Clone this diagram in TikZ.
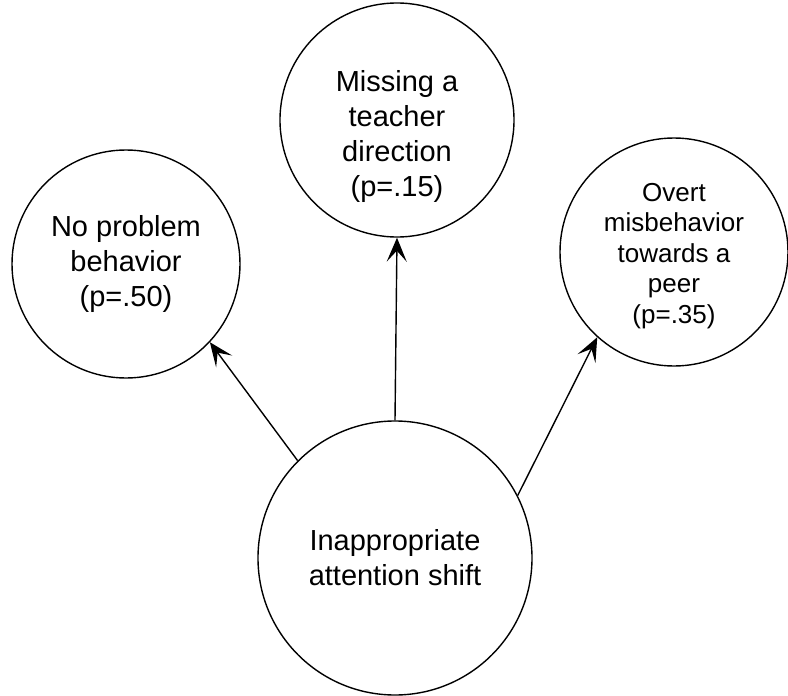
\documentclass[tikz,border=0pt]{standalone}
\usepackage{fontspec}
\setmainfont{Liberation Sans}
\usetikzlibrary{arrows.meta}
\tikzset{
txt/.style={
  align=center,
  font=\fontsize{29}{35}\selectfont
  },
circ/.style={
  txt,
  draw,
  circle,
  line width=1.4pt,
  inner sep=0pt,
  minimum size=#1
  },
circs/.style={
  circ=#1,
  font=\fontsize{26}{30.5}\selectfont
  },
link/.style={
  line width=1.4pt,
  -{Stealth[length=24pt 0 0,width=20pt 0,inset=11pt 0]}
  }
}

\begin{document}
\begin{tikzpicture}[x=1pt,y=-1pt]
\useasboundingbox (0,0) rectangle (788,696);

\node[circ=274pt] at (395,558) (shift) {Inappropriate\\attention shift};

\node[circ=228pt] at (126,264) (noprob) {No problem\\behavior\\(p=.50)};

\node[circ=234pt,label={[txt,yshift=-17pt]center:Missing a\\teacher\\direction\\(p=.15)}]
  at (397,120) (missing) {};

\node[circs=228pt,label={[txt,font=\fontsize{26}{30.5}\selectfont,yshift=-4pt]center:Overt\\misbehavior\\towards a\\peer\\(p=.35)}]
  at (674,252) (overt) {};

\draw[link] (shift.135) -- (noprob.-43);
\draw[link] (shift.north) -- (missing.south);
\draw[link] (shift.27) -- (overt.228);
\end{tikzpicture}
\end{document}
